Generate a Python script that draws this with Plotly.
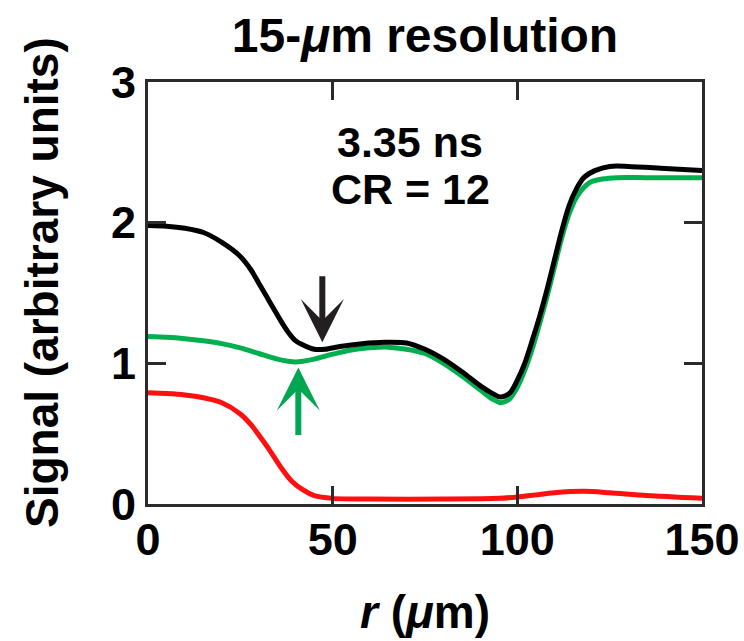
import plotly.graph_objects as go

# Radial lineouts of the signal (r in micrometres)
r_black = [0, 5, 10, 15, 20, 25, 28, 30, 32, 34, 36, 38, 40, 42, 45, 48, 52, 58, 64, 70,
           75, 80, 85, 90, 93, 95.5, 98, 100, 102, 104, 106, 108, 110, 112, 114, 116,
           118, 121, 125, 130, 140, 150]
sig_black = [1.98, 1.975, 1.96, 1.93, 1.86, 1.76, 1.66, 1.57, 1.48, 1.39, 1.30, 1.22, 1.16,
             1.13, 1.10, 1.10, 1.12, 1.14, 1.15, 1.145, 1.10, 1.03, 0.94, 0.84, 0.79, 0.76,
             0.79, 0.88, 1.00, 1.16, 1.33, 1.52, 1.73, 1.94, 2.12, 2.24, 2.32, 2.37, 2.40,
             2.40, 2.385, 2.37]

r_green = [0, 5, 10, 15, 20, 25, 30, 35, 40, 45, 50, 55, 60, 65, 70, 75, 80, 85, 90, 93,
           95.5, 98, 100, 102, 104, 106, 108, 110, 112, 114, 116, 118, 120, 123, 127, 135, 150]
sig_green = [1.19, 1.185, 1.175, 1.16, 1.14, 1.11, 1.07, 1.03, 1.01, 1.03, 1.065, 1.095,
             1.11, 1.115, 1.10, 1.07, 1.00, 0.91, 0.81, 0.75, 0.72, 0.75, 0.83, 0.95, 1.10,
             1.28, 1.47, 1.68, 1.89, 2.06, 2.18, 2.25, 2.29, 2.31, 2.32, 2.32, 2.32]

r_red = [0, 5, 10, 15, 20, 25, 28, 30, 33, 36, 39, 42, 45, 50, 60, 80, 95, 100, 105, 110,
         118, 125, 135, 150]
sig_red = [0.79, 0.785, 0.775, 0.755, 0.72, 0.64, 0.56, 0.49, 0.38, 0.26, 0.16, 0.10, 0.06,
           0.04, 0.035, 0.035, 0.04, 0.05, 0.065, 0.08, 0.09, 0.08, 0.06, 0.04]

x_ticks = [0, 50, 100, 150]
y_ticks = [0, 1, 2, 3]

# Arrow markers: (r, tip signal, tail signal)
black_arrow = (47.2, 1.15, 1.63)
green_arrow = (40.7, 0.97, 0.48)

BLACK = "#000000"
GREEN = "#00b050"
RED = "#ff1010"
AXIS = "#2b2b2b"
FONT = "Liberation Sans, Arial, Helvetica, sans-serif"

W, H = 744, 641
M_L, M_R, M_T, M_B = 148, 42, 82, 137

fig = go.Figure()
for r, s, c in [(r_red, sig_red, RED), (r_green, sig_green, GREEN), (r_black, sig_black, BLACK)]:
    fig.add_trace(go.Scatter(x=r, y=s, mode="lines",
                             line=dict(color=c, width=5, shape="spline", smoothing=0.8),
                             showlegend=False, hoverinfo="skip"))

for (xa, tip, tail), col in [(black_arrow, "#231f20"), (green_arrow, "#00a651")]:
    fig.add_annotation(x=xa, y=tip, ax=xa, ay=tail, xref="x", yref="y", axref="x", ayref="y",
                       text="", showarrow=True, arrowhead=3, arrowsize=1.2, arrowwidth=6,
                       arrowcolor=col, standoff=0)

fig.add_annotation(x=71, y=2.573, xref="x", yref="y", text="<b>3.35 ns</b>", showarrow=False,
                   font=dict(family=FONT, size=43, color="black"))
fig.add_annotation(x=71, y=2.239, xref="x", yref="y", text="<b>CR = 12</b>", showarrow=False,
                   font=dict(family=FONT, size=43, color="black"))

# Rotated y-axis title placed in paper space
plot_w = W - M_L - M_R
plot_h = H - M_T - M_B
fig.add_annotation(x=(42 - M_L) / plot_w, y=(H - M_B - 283) / plot_h,
                   xref="paper", yref="paper", xanchor="center", yanchor="middle",
                   text="<b>Signal (arbitrary units)</b>", textangle=-90, showarrow=False,
                   font=dict(family=FONT, size=46, color="black"))

axis_common = dict(showline=True, linecolor=AXIS, linewidth=3, mirror="ticks",
                   ticks="inside", ticklen=18, tickwidth=2.5, tickcolor=AXIS,
                   showgrid=False, zeroline=False, automargin=False,
                   tickfont=dict(family=FONT, size=45, color="black"))

fig.update_layout(
    width=W, height=H,
    margin=dict(l=M_L, r=M_R, t=M_T, b=M_B, autoexpand=False),
    paper_bgcolor="white", plot_bgcolor="white",
    title=dict(text="<b>15-<i>μ</i>m resolution</b>", x=0.5, xref="paper",
               y=1 - 35 / H, yref="container", yanchor="middle", xanchor="center",
               font=dict(family=FONT, size=48, color="black")),
    xaxis=dict(range=[0, 150], tickvals=x_ticks, ticktext=[f"<b>{v}</b>" for v in x_ticks],
               ticklabelstandoff=-6,
               title=dict(text="<b><i>r</i> (<i>μ</i>m)</b>", standoff=32,
                          font=dict(family=FONT, size=46, color="black")),
               **axis_common),
    yaxis=dict(range=[0, 3], tickvals=y_ticks, ticktext=[f"<b>{v}</b>" for v in y_ticks],
               **axis_common),
)

fig.write_html("out.html")
